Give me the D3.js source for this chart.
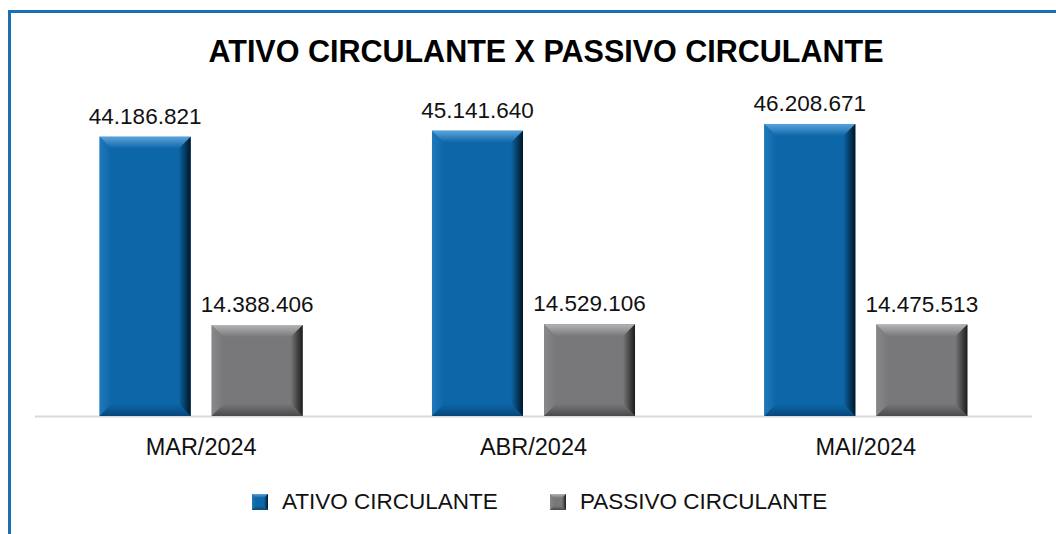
<!DOCTYPE html>
<html>
<head>
<meta charset="utf-8">
<script src="https://cdn.jsdelivr.net/npm/d3@7"></script>
<style>
  body { margin: 0; background: #fff; }
  svg { display: block; font-family: "Liberation Sans", Arial, sans-serif; }
</style>
</head>
<body>
<div id="chart"></div>
<script>
// data
const categories = ["MAR/2024", "ABR/2024", "MAI/2024"];
const seriesNames = ["ATIVO CIRCULANTE", "PASSIVO CIRCULANTE"];
const ativo = [44186821, 45141640, 46208671];
const passivo = [14388406, 14529106, 14475513];
const title = "ATIVO CIRCULANTE X PASSIVO CIRCULANTE";

const W = 1056, H = 534;
const svg = d3.select("#chart").append("svg")
  .attr("width", W).attr("height", H);

// bevel colours per series: base, top, left, right, bottom
const pal = [
  { base: "#0d66a7", top: "#5aa3dc", left: "#1f78ba", right: "#001626", bottom: "#07477a" },
  { base: "#78787b", top: "#b4b4b6", left: "#88888b", right: "#1c1c1c", bottom: "#4a4a4c" }
];

const defs = svg.append("defs");
function grad(id, c0, c1, dir) {
  const g = defs.append("linearGradient").attr("id", id);
  const v = { top: [0, 0, 0, 1], bottom: [0, 1, 0, 0], left: [0, 0, 1, 0], right: [1, 0, 0, 0] }[dir];
  g.attr("x1", v[0]).attr("y1", v[1]).attr("x2", v[2]).attr("y2", v[3]);
  g.append("stop").attr("offset", 0).attr("stop-color", c0);
  g.append("stop").attr("offset", 1).attr("stop-color", c1);
}
pal.forEach((p, i) => {
  ["top", "left", "right", "bottom"].forEach(s => grad(`g${i}${s}`, p[s], p.base, s));
});

// frame
svg.append("path")
  .attr("d", `M9.5,${H} V11.5 H${W}`)
  .attr("fill", "none").attr("stroke", "#1a6eb2").attr("stroke-width", 3);

// title
svg.append("text")
  .attr("x", 546).attr("y", 62)
  .attr("text-anchor", "middle")
  .attr("font-size", 30.5).attr("font-weight", "bold").attr("fill", "#000")
  .text(title);

// scales
const x0 = d3.scaleBand().domain(categories).range([35, 1032]);
const x1 = d3.scaleBand().domain(seriesNames).range([0, x0.bandwidth()])
  .paddingInner(0.1875).paddingOuter(0.577);
const y = d3.scaleLinear().domain([0, 50000000]).range([416, 100]);

function bevelBar(g, x, yTop, w, h, i, b) {
  const x2 = x + w, y2 = yTop + h;
  g.append("rect").attr("x", x).attr("y", yTop).attr("width", w).attr("height", h)
    .attr("fill", pal[i].base);
  const pts = {
    top: [[x, yTop], [x2, yTop], [x2 - b, yTop + b], [x + b, yTop + b]],
    bottom: [[x, y2], [x2, y2], [x2 - b, y2 - b], [x + b, y2 - b]],
    left: [[x, yTop], [x + b, yTop + b], [x + b, y2 - b], [x, y2]],
    right: [[x2, yTop], [x2 - b, yTop + b], [x2 - b, y2 - b], [x2, y2]]
  };
  ["left", "top", "bottom", "right"].forEach(s => {
    g.append("polygon")
      .attr("points", pts[s].map(p => p.join(",")).join(" "))
      .attr("fill", `url(#g${i}${s})`);
  });
}

// axis line
svg.append("line")
  .attr("x1", x0.range()[0]).attr("x2", x0.range()[1])
  .attr("y1", y(0) + 0.5).attr("y2", y(0) + 0.5)
  .attr("stroke", "#d9d9d9").attr("stroke-width", 2);

const values = [ativo, passivo];
const fmt = v => d3.format(",")(v).replace(/,/g, ".");

categories.forEach((c, ci) => {
  const g = svg.append("g");
  seriesNames.forEach((s, si) => {
    const v = values[si][ci];
    const bx = x0(c) + x1(s);
    const by = y(v);
    bevelBar(g, bx, by, x1.bandwidth(), y(0) - by, si, 12);
    g.append("text")
      .attr("x", bx + x1.bandwidth() / 2).attr("y", by - 13)
      .attr("text-anchor", "middle").attr("font-size", 22.5).attr("fill", "#111")
      .text(fmt(v));
  });
  svg.append("text")
    .attr("x", x0(c) + x0.bandwidth() / 2).attr("y", 455)
    .attr("text-anchor", "middle").attr("font-size", 23.5).attr("fill", "#111")
    .text(c);
});

// legend
const legX = [252, 550];
seriesNames.forEach((s, si) => {
  const g = svg.append("g");
  bevelBar(g, legX[si], 494, 16, 16, si, 4);
  g.append("text")
    .attr("x", legX[si] + 30).attr("y", 509)
    .attr("font-size", 22.5).attr("fill", "#111")
    .text(s);
});
</script>
</body>
</html>
